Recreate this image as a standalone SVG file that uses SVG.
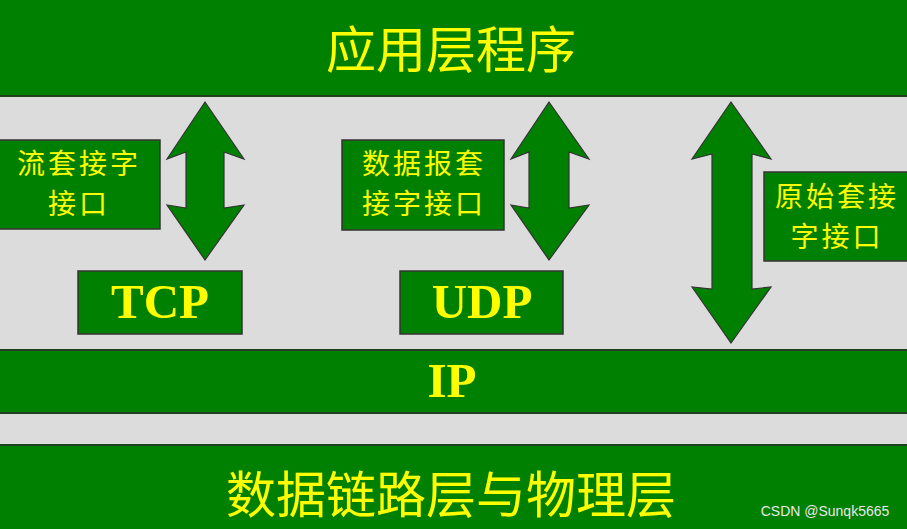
<svg xmlns="http://www.w3.org/2000/svg" width="907" height="529" viewBox="0 0 907 529">
<style>
.bar{fill:#008000;stroke:#1f3f1f;stroke-width:2}
.box{fill:#008000;stroke:#333;stroke-width:1.5}
.arrow{fill:#008000;stroke:#333;stroke-width:1.2}
.cn{font-family:"Noto Sans CJK SC","Noto Sans",sans-serif;fill:#ffff00;text-anchor:middle;dominant-baseline:central}
.big{font-size:50px}
.small{font-size:28px;letter-spacing:3px}
.en{font-family:"Liberation Serif","Times New Roman",serif;font-weight:bold;fill:#ffff00;text-anchor:middle;dominant-baseline:central;font-size:49px}
</style>
<rect x="0" y="0" width="907" height="529" fill="#dcdcdc"/>
<g id="app">
<rect class="bar" x="-2" y="-2" width="911" height="98"/>
<text class="cn big" x="451" y="46">应用层程序</text>
</g>
<g id="ip">
<rect class="bar" x="-2" y="350" width="911" height="63"/>
<text class="en" x="452" y="380">IP</text>
</g>
<g id="link">
<rect class="bar" x="-2" y="445" width="911" height="90"/>
<text class="cn big" x="451" y="491">数据链路层与物理层</text>
</g>
<g id="stream">
<rect class="box" x="-2" y="140" width="162" height="89"/>
<text class="cn small" x="79" y="162">流套接字</text>
<text class="cn small" x="79" y="202">接口</text>
</g>
<g id="tcp">
<rect class="box" x="78" y="271" width="164" height="63"/>
<text class="en" x="160" y="301">TCP</text>
</g>
<g id="dgram">
<rect class="box" x="342" y="140" width="162" height="90"/>
<text class="cn small" x="424" y="162">数据报套</text>
<text class="cn small" x="424" y="202">接字接口</text>
</g>
<g id="udp">
<rect class="box" x="400" y="271" width="163" height="63"/>
<text class="en" x="482" y="301">UDP</text>
</g>
<g id="raw">
<rect class="box" x="764" y="172" width="145" height="89"/>
<text class="cn small" x="837" y="195">原始套接</text>
<text class="cn small" x="837" y="235">字接口</text>
</g>
<g id="connectors">
<polygon class="arrow" points="205,102 244,159 224,152 224,208 244,205 205,260 167,205 186,208 186,152 167,159"/>
<polygon class="arrow" points="549,102 589,159 569,152 569,208 589,205 549,260 511,205 529,208 529,152 511,159"/>
<polygon class="arrow" points="731,102 771,159 752,154 752,289 771,287 731,343 692,287 712,289 712,154 692,159"/>
</g>
<text x="825" y="511" font-family="Liberation Sans, Arial, sans-serif" font-size="14" fill="#e8e8e8" text-anchor="middle" dominant-baseline="central">CSDN @Sunqk5665</text>
</svg>
